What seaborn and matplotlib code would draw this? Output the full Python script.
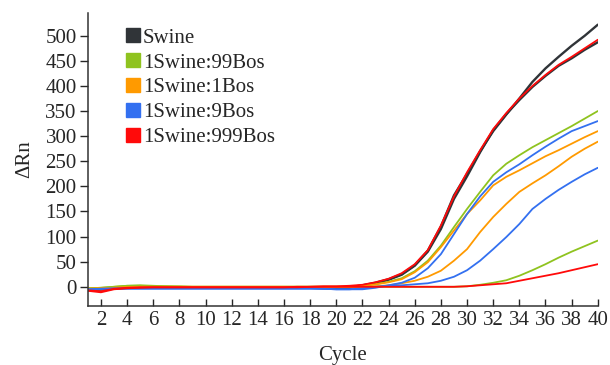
import numpy as np
import pandas as pd
import matplotlib
matplotlib.use("Agg")
import matplotlib.pyplot as plt
from matplotlib.lines import Line2D
import seaborn as sns

cycles = list(range(1, 41))
samples = ["Swine", "1Swine:99Bos", "1Swine:1Bos", "1Swine:9Bos", "1Swine:999Bos"]
colors = ["#303438", "#8fc31f", "#ff9a00", "#3370f0", "#ff0a0a"]

# two amplification curves per sample (delta Rn, cycles 1-40)
swine_a = [-6, -5, -3, -2, -1, -1, -1, -1, -1, -1, -1, -1, -1, -1, -1, -1, -1, -2, -2, -2,
           -1, 3, 8, 15, 25, 43, 72, 120, 182, 225, 270, 310, 343, 375, 408, 435, 458, 480, 500, 522]
swine_b = [-6, -5, -3, -2, -1, -1, -1, -1, -1, -1, -1, -1, -1, -1, -1, -1, -2, -2, -3, -3,
           -2, 2, 7, 14, 24, 42, 70, 115, 175, 220, 268, 312, 344, 372, 398, 420, 440, 455, 472, 487]
bos99_a = [-3, -2, 0, 2, 3, 2, 1, 1, 0, 0, 0, 0, 0, 0, 0, 0, 0, 0, 0, 0,
           0, 3, 5, 10, 17, 31, 52, 82, 119, 155, 189, 222, 245, 262, 278, 292, 306, 320, 335, 350]
bos99_b = [-3, -2, 0, 2, 2, 1, 1, 0, 0, 0, 0, 0, 0, 0, 0, 0, 0, 0, 0, 0,
           0, 0, 0, 0, 0, 0, 0, 0, 0, 1, 4, 8, 13, 22, 33, 45, 58, 70, 81, 92]
bos1_a = [-4, -3, -2, -1, 0, 0, 0, 0, 0, 0, 0, 0, 0, 0, 0, 0, 0, 0, 0, 0,
          0, 2, 5, 9, 15, 29, 49, 79, 112, 145, 172, 202, 219, 232, 246, 260, 272, 285, 298, 310]
bos1_b = [-4, -3, -2, -1, 0, 0, 0, 0, 0, 0, 0, 0, 0, 0, 0, 0, 0, 0, 0, 0,
          0, 0, 1, 3, 7, 12, 20, 32, 52, 75, 109, 139, 165, 189, 206, 222, 240, 259, 275, 289]
bos9_a = [-5, -4, -3, -3, -3, -3, -3, -3, -3, -3, -3, -3, -3, -3, -3, -3, -3, -3, -4, -5,
          -5, -5, -2, 3, 8, 18, 37, 65, 105, 145, 180, 209, 228, 244, 262, 279, 295, 310, 320, 330]
bos9_b = [-5, -4, -4, -4, -4, -4, -4, -4, -4, -4, -4, -4, -4, -4, -4, -4, -4, -4, -4, -5,
          -5, -3, 0, 2, 3, 5, 7, 12, 20, 33, 52, 75, 99, 125, 155, 175, 193, 209, 224, 237]
bos999_a = [-8, -11, -5, -3, -2, -1, -1, -1, -1, -1, -1, -1, -1, -1, -1, -1, 0, 0, 1, 1,
            2, 4, 9, 16, 27, 45, 73, 122, 180, 228, 272, 314, 346, 375, 400, 422, 442, 458, 475, 492]
bos999_b = [-7, -9, -4, -2, -1, -1, -1, -1, -1, -1, -1, -1, -1, -1, -1, -1, -1, 0, 0, 0,
            0, 0, 0, 0, 0, 0, 0, 0, 0, 1, 3, 5, 7, 12, 17, 22, 27, 33, 39, 45]

curves = {
    ("Swine", "a"): swine_a, ("Swine", "b"): swine_b,
    ("1Swine:99Bos", "a"): bos99_a, ("1Swine:99Bos", "b"): bos99_b,
    ("1Swine:1Bos", "a"): bos1_a, ("1Swine:1Bos", "b"): bos1_b,
    ("1Swine:9Bos", "a"): bos9_a, ("1Swine:9Bos", "b"): bos9_b,
    ("1Swine:999Bos", "a"): bos999_a, ("1Swine:999Bos", "b"): bos999_b,
}
rows = []
for (name, rep), vals in curves.items():
    for c, v in zip(cycles, vals):
        rows.append({"cycle": c, "drn": v, "sample": name, "curve": name + rep})
df = pd.DataFrame(rows)

sns.set_style("ticks")
plt.rcParams["font.family"] = ["Liberation Serif", "DejaVu Serif"]

fig = plt.figure(figsize=(6.1, 3.65), dpi=100)
ax = fig.add_axes([0.144, 0.162, 0.836, 0.802])

sns.lineplot(data=df, x="cycle", y="drn", hue="sample", units="curve",
             estimator=None, hue_order=samples, palette=colors,
             linewidth=1.3, legend=False, ax=ax)
for ln in ax.lines:
    if ln.get_color() == "#303438":
        ln.set_linewidth(1.7)

ax.set_xlim(1, 40)
ax.set_ylim(-38, 545)
ax.set_xticks(range(2, 41, 2))
ax.set_yticks(range(0, 501, 50))
ax.tick_params(axis="x", direction="in", length=5, width=1, labelsize=15, pad=4)
ax.tick_params(axis="y", direction="out", length=6, width=1, labelsize=15, pad=2)
sns.despine(ax=ax)
for s in ("left", "bottom"):
    ax.spines[s].set_linewidth(1.1)
    ax.spines[s].set_color("#333333")

ax.set_xlabel("Cycle", fontsize=15, labelpad=11)
ax.set_ylabel("ΔRn", fontsize=15, labelpad=8)

handles = [Line2D([], [], marker="s", linestyle="", markersize=10, color=c) for c in colors]
ax.legend(handles, samples, loc="upper left", bbox_to_anchor=(0.058, 0.977),
          frameon=False, fontsize=15, handlelength=0.7, handletextpad=0.12,
          labelspacing=0.25, borderaxespad=0)

fig.savefig("out.png", dpi=100)
